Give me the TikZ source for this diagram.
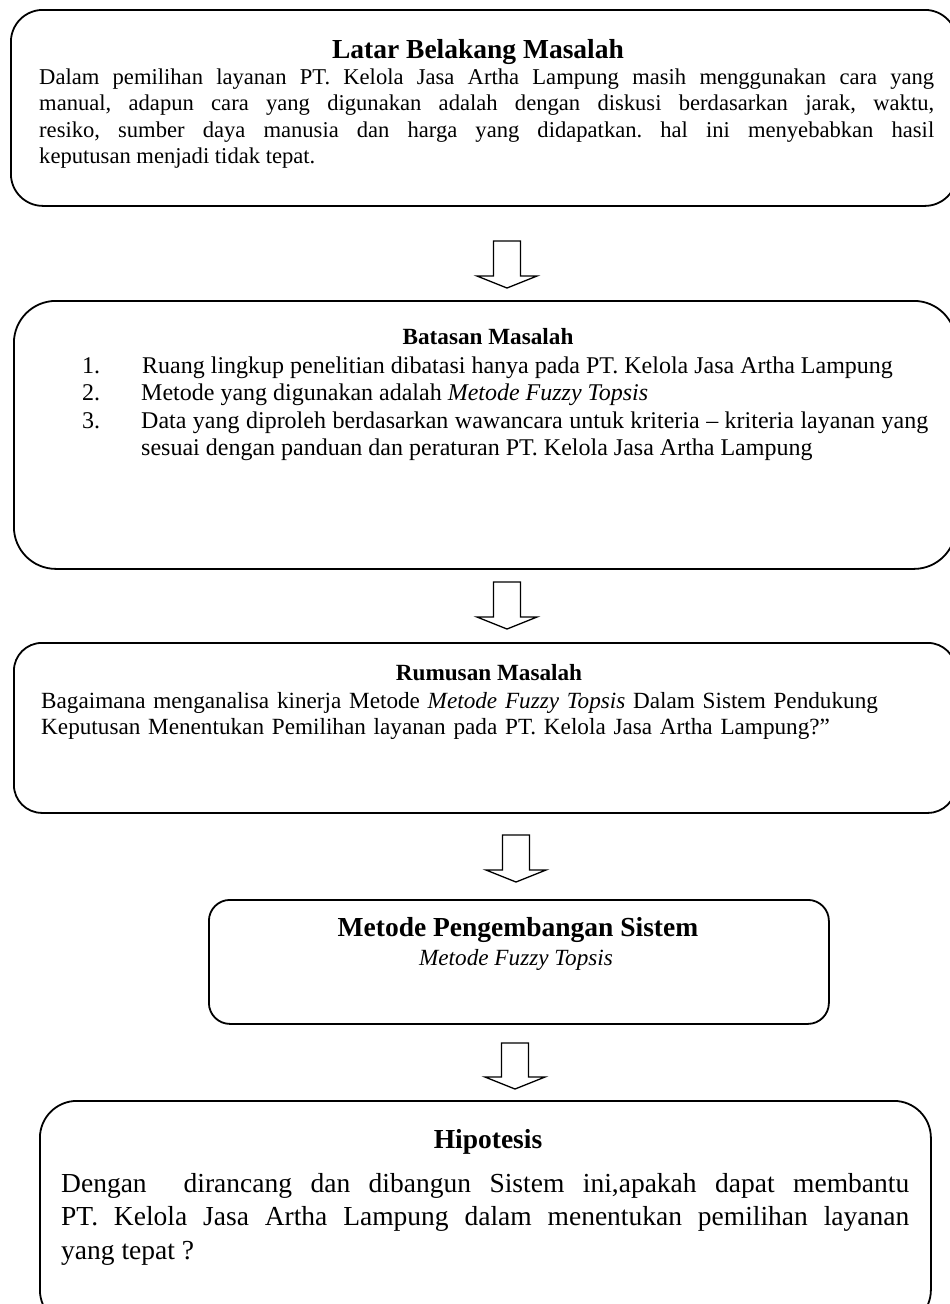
\documentclass[tikz,border=0pt]{standalone}
\usepackage{fontspec}
\setmainfont{Liberation Serif}
\usetikzlibrary{positioning}
\frenchspacing

\newcommand{\blockarrow}[2]{\draw[line width=1.3pt] (#1) ++(-13.5,0) -- ++(0,#2) -- ++(-16.5,0) -- ++(30,12) -- ++(30,-12) -- ++(-16.5,0) -- ++(0,-#2) -- cycle;}

\begin{document}
\begin{tikzpicture}[x=1pt,y=-1pt,
  panel/.style={draw, line width=1.8pt, rounded corners=#1, inner sep=0pt, anchor=north west},
  head/.style={anchor=base, inner sep=0pt, font=\bfseries\fontsize{23.2}{26.6}\selectfont},
  bighead/.style={anchor=base, inner sep=0pt, font=\bfseries\fontsize{27.5}{30}\selectfont},
  para/.style={anchor=base west, inner sep=0pt, align=justify, font=\fontsize{23.2}{26.6}\selectfont},
  item/.style={para, font=\fontsize{24}{27.4}\selectfont}]
\useasboundingbox (0,0) rectangle (950,1304);

\node[panel=32pt, minimum width=946pt, minimum height=196pt] (latar) at (10,9) {};
\node[bighead] (latarT) at (478,58) {Latar Belakang Masalah};
\node[para, text width=895pt, font=\fontsize{22.6}{26.6}\selectfont] (latarB) at (39,84) {Dalam pemilihan layanan PT. Kelola Jasa Artha Lampung masih menggunakan cara yang\linebreak
manual, adapun cara yang digunakan adalah dengan diskusi berdasarkan jarak, waktu,\linebreak
resiko, sumber daya manusia dan harga yang didapatkan. hal ini menyebabkan hasil\linebreak
keputusan menjadi tidak tepat.};

\coordinate (a1) at (507,241);
\blockarrow{a1}{35}

\node[panel=42pt, minimum width=942pt, minimum height=268pt] (batasan) at (13,300) {};
\node[head] (batasanT) at (488,344) {Batasan Masalah};
\node[item, anchor=base] (n1) at (91,373) {1.};
\node[item, anchor=base] (n2) at (91,400.5) {2.};
\node[item, anchor=base] (n3) at (91,428) {3.};
\node[item, align=left] (i1) at (142,373) {Ruang lingkup penelitian dibatasi hanya pada PT. Kelola Jasa Artha Lampung};
\node[item, align=left] (i2) at (141,400.5) {Metode yang digunakan adalah \textit{Metode Fuzzy Topsis}};
\node[item, text width=787pt] (i3) at (141,428) {Data yang diproleh berdasarkan wawancara untuk kriteria -- kriteria layanan yang\linebreak
sesuai dengan panduan dan peraturan PT. Kelola Jasa Artha Lampung};

\coordinate (a2) at (507,582);
\blockarrow{a2}{35}

\node[panel=28pt, minimum width=942pt, minimum height=170pt] (rumusan) at (13,642) {};
\node[head] (rumusanT) at (489,680) {Rumusan Masalah};
\node[para, text width=900pt, align=left] (rumusanB) at (41,708) {Bagaimana menganalisa kinerja Metode \textit{Metode Fuzzy Topsis} Dalam Sistem Pendukung\\
Keputusan Menentukan Pemilihan layanan pada PT. Kelola Jasa Artha Lampung?”};

\coordinate (a3) at (516,835);
\blockarrow{a3}{35}

\node[panel=21pt, minimum width=620pt, minimum height=124pt] (metode) at (208,899) {};
\node[bighead] (metodeT) at (518,936) {Metode Pengembangan Sistem};
\node[para, anchor=base, align=center] (metodeB) at (516,965) {\textit{Metode Fuzzy Topsis}};

\coordinate (a4) at (515,1043);
\blockarrow{a4}{34}

\node[panel=37pt, minimum width=891pt, minimum height=226pt] (hipotesis) at (39,1100) {};
\node[bighead] (hipotesisT) at (488,1148) {Hipotesis};
\node[para, text width=848pt, font=\fontsize{27.5}{33.5}\selectfont] (hipotesisB) at (61,1192) {Dengan\ \ dirancang dan dibangun Sistem ini,apakah dapat membantu\linebreak
PT. Kelola Jasa Artha Lampung dalam menentukan pemilihan layanan\linebreak
yang tepat ?};
\end{tikzpicture}
\end{document}
